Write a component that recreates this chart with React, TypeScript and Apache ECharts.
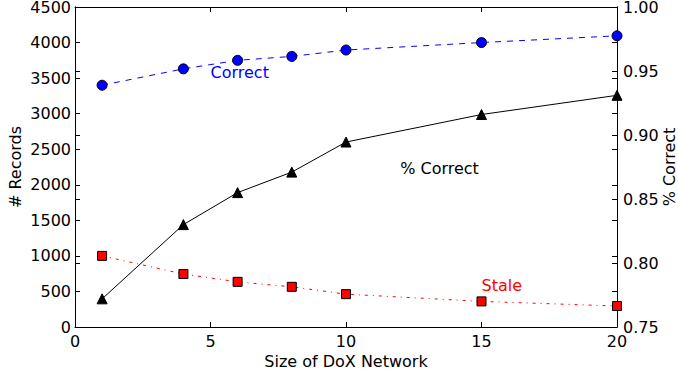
import React, { useEffect, useRef } from "react";
import * as echarts from "echarts";

const xValues = [1, 4, 6, 8, 10, 15, 20];
const correct = [3400, 3630, 3750, 3805, 3895, 4000, 4095];
const stale = [1000, 745, 635, 565, 462, 360, 295];
const pctCorrect = [0.772, 0.83, 0.855, 0.871, 0.8945, 0.916, 0.931];

const leftTicks = { min: 0, max: 4500, interval: 500 };
const rightTicks = { min: 0.75, max: 1.0, interval: 0.05 };
const xTicks = { min: 0, max: 20, interval: 5 };

// text annotations in data coordinates: [x, y, axisIndex, text, color]
const notes: [number, number, number, string, string][] = [
  [5, 3500, 0, "Correct", "#0000ff"],
  [12, 2150, 0, "% Correct", "#000000"],
  [15, 500, 0, "Stale", "#ff0000"],
];

const FONT = "DejaVu Sans";

export default function App() {
  const ref = useRef<HTMLDivElement>(null);
  useEffect(() => {
    if (!ref.current) return;
    document.body.style.margin = "0";
    const chart = echarts.init(ref.current, null, { renderer: "svg" });
    const tickStyle = { show: true, inside: true, length: 5, lineStyle: { color: "#000", width: 1 } };
    const axisLine = { show: true, onZero: false, lineStyle: { color: "#000", width: 1 } };
    const labelStyle = { color: "#000", fontSize: 16, fontFamily: FONT };
    const zip = (ys: number[]) => xValues.map((x, i) => [x, ys[i]]);
    chart.setOption({
      animation: false,
      grid: { left: 75, right: 61, top: 7, bottom: 50, containLabel: false, outerBoundsMode: "none" },
      xAxis: [
        {
          type: "value",
          ...xTicks,
          position: "bottom",
          axisLine,
          axisTick: tickStyle,
          splitLine: { show: false },
          axisLabel: { ...labelStyle, margin: 6, formatter: (v: number) => String(v) },
          name: "Size of DoX Network",
          nameLocation: "middle",
          nameGap: 26,
          nameMoveOverlap: false,
          nameTextStyle: { color: "#000", fontSize: 16, fontFamily: FONT },
        },
        {
          type: "value",
          ...xTicks,
          position: "top",
          axisLine,
          axisTick: tickStyle,
          splitLine: { show: false },
          axisLabel: { show: false },
        },
      ],
      yAxis: [
        {
          type: "value",
          ...leftTicks,
          position: "left",
          axisLine,
          axisTick: tickStyle,
          splitLine: { show: false },
          axisLabel: { ...labelStyle, margin: 4, formatter: (v: number) => String(v) },
          name: "# Records",
          nameLocation: "middle",
          nameGap: 52,
          nameMoveOverlap: false,
          nameRotate: 90,
          nameTextStyle: { color: "#000", fontSize: 16, fontFamily: FONT },
        },
        {
          type: "value",
          ...rightTicks,
          position: "right",
          axisLine,
          axisTick: tickStyle,
          splitLine: { show: false },
          axisLabel: { ...labelStyle, margin: 6, formatter: (v: number) => v.toFixed(2) },
          name: "% Correct",
          nameLocation: "middle",
          nameGap: 44,
          nameMoveOverlap: false,
          nameRotate: 90,
          nameTextStyle: { color: "#000", fontSize: 16, fontFamily: FONT },
        },
        {
          type: "value",
          ...leftTicks,
          position: "right",
          axisLine,
          axisTick: tickStyle,
          splitLine: { show: false },
          axisLabel: { show: false },
        },
        {
          type: "value",
          ...rightTicks,
          position: "left",
          axisLine,
          axisTick: tickStyle,
          splitLine: { show: false },
          axisLabel: { show: false },
        },
      ],
      series: [
        {
          type: "line",
          name: "Correct",
          yAxisIndex: 0,
          data: zip(correct),
          symbol: "circle",
          symbolSize: 10,
          lineStyle: { color: "#0000ff", width: 1, type: [6, 6] },
          itemStyle: { color: "#0000ff", borderColor: "#000", borderWidth: 1 },
        },
        {
          type: "line",
          name: "Stale",
          yAxisIndex: 0,
          data: zip(stale),
          symbol: "rect",
          symbolSize: 9,
          lineStyle: { color: "#ff0000", width: 1, type: [3, 5, 1, 5] },
          itemStyle: { color: "#ff0000", borderColor: "#000", borderWidth: 1 },
        },
        {
          type: "line",
          name: "% Correct",
          yAxisIndex: 1,
          data: zip(pctCorrect),
          symbol: "triangle",
          symbolSize: 10,
          lineStyle: { color: "#000", width: 1 },
          itemStyle: { color: "#000", borderColor: "#000", borderWidth: 1 },
        },
      ],
    });
    const graphic = notes.map(([x, y, ai, text, color]) => {
      const p = chart.convertToPixel({ xAxisIndex: 0, yAxisIndex: ai }, [x, y]) as number[];
      return {
        type: "text",
        x: p[0],
        y: p[1] + 2,
        style: {
          text,
          fill: color,
          fontSize: 16,
          fontFamily: FONT,
          textAlign: "left",
          textVerticalAlign: "bottom",
        },
      };
    });
    chart.setOption({ graphic });
    return () => chart.dispose();
  }, []);
  return <div ref={ref} style={{ width: 678, height: 377 }} />;
}
